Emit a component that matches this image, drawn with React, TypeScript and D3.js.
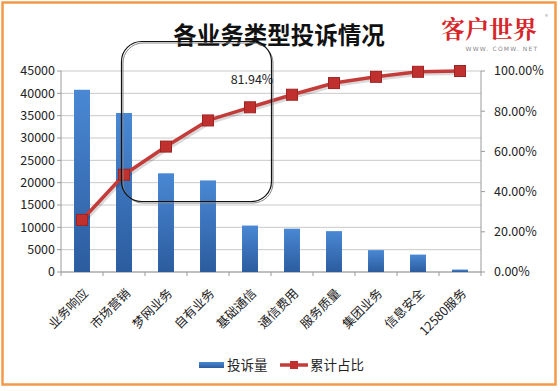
import { scaleBand, scaleLinear, line } from "d3";

const CATEGORIES = [
  "业务响应",
  "市场营销",
  "梦网业务",
  "自有业务",
  "基础通信",
  "通信费用",
  "服务质量",
  "集团业务",
  "信息安全",
  "12580服务",
];
const COMPLAINTS = [40800, 35600, 22100, 20500, 10400, 9700, 9150, 4900, 3900, 550];
const CUMULATIVE = [25.9, 48.4, 62.4, 75.4, 81.94, 88.2, 94.0, 97.1, 99.6, 100];
const LEFT_TICKS = [0, 5000, 10000, 15000, 20000, 25000, 30000, 35000, 40000, 45000];
const RIGHT_TICKS = [0, 20, 40, 60, 80, 100];
const LABELLED_POINT = 4;

const W = 560;
const H = 391;
const PLOT = { left: 61, right: 481, top: 71, bottom: 272 };

const FONT = "'Noto Sans CJK SC', 'Noto Sans', sans-serif";

export default function App() {
  const x = scaleBand<string>()
    .domain(CATEGORIES)
    .range([PLOT.left, PLOT.right])
    .paddingInner(0)
    .paddingOuter(0);
  const yLeft = scaleLinear().domain([0, 45000]).range([PLOT.bottom, PLOT.top]);
  const yRight = scaleLinear().domain([0, 100]).range([PLOT.bottom, PLOT.top]);

  const barW = x.bandwidth() * 0.38;
  const cx = (c: string) => (x(c) ?? 0) + x.bandwidth() / 2;

  const pathD =
    line<number>()
      .x((_, i) => cx(CATEGORIES[i]))
      .y(d => yRight(d))(CUMULATIVE) ?? "";

  const lblX = cx(CATEGORIES[LABELLED_POINT]);
  const lblY = yRight(CUMULATIVE[LABELLED_POINT]);

  return (
    <svg
      width={W}
      height={H}
      style={{ position: "absolute", left: 0, top: 0, fontFamily: FONT }}
    >
      <defs>
        <linearGradient id="barGrad" x1="0" y1="0" x2="0" y2="1">
          <stop offset="0" stopColor="#4a88d4" />
          <stop offset="1" stopColor="#2b5c9e" />
        </linearGradient>
      </defs>
      <rect x={0} y={0} width={W} height={H} fill="white" />
      <rect x={2.5} y={2.5} width={553} height={382} fill="white" stroke="#f29a4a" strokeWidth={2.5} />

      {/* title + logo */}
      <text x={279} y={44} textAnchor="middle" fontSize={23.5} fontWeight="bold" fill="#111">
        各业务类型投诉情况
      </text>
      <text x={489} y={38} textAnchor="middle" fontSize={24} fontWeight="bold" fill="#d8252a"
        fontFamily="'Noto Serif CJK SC', 'Noto Sans CJK SC', serif">
        客户世界
      </text>
      <text x={545} y={19} fontSize={6} fill="#999">®</text>
      <text x={502} y={51} textAnchor="middle" fontSize={6} fill="#888" letterSpacing={1.2} fontFamily="'DejaVu Sans', sans-serif">
        WWW. COMW. NET
      </text>

      {/* gridlines */}
      {LEFT_TICKS.map(t => (
        <line key={t} x1={PLOT.left} x2={PLOT.right} y1={yLeft(t)} y2={yLeft(t)} stroke="#c9c9c9" strokeWidth={1} />
      ))}

      {/* axes */}
      <line x1={PLOT.left} x2={PLOT.left} y1={PLOT.top} y2={PLOT.bottom} stroke="#9a9a9a" />
      <line x1={PLOT.right} x2={PLOT.right} y1={PLOT.top} y2={PLOT.bottom} stroke="#9a9a9a" />
      <line x1={PLOT.left} x2={PLOT.right} y1={PLOT.bottom} y2={PLOT.bottom} stroke="#9a9a9a" />
      {LEFT_TICKS.map(t => (
        <g key={t}>
          <line x1={PLOT.left - 4} x2={PLOT.left} y1={yLeft(t)} y2={yLeft(t)} stroke="#9a9a9a" />
          <text x={PLOT.left - 6} y={yLeft(t)} dy="0.35em" textAnchor="end" fontSize={12.5} fill="#222">
            {t}
          </text>
        </g>
      ))}
      {RIGHT_TICKS.map(t => (
        <g key={t}>
          <line x1={PLOT.right} x2={PLOT.right + 4} y1={yRight(t)} y2={yRight(t)} stroke="#9a9a9a" />
          <text x={PLOT.right + 13} y={yRight(t)} dy="0.35em" fontSize={12.5} fill="#222">
            {t.toFixed(2)}%
          </text>
        </g>
      ))}
      {[...CATEGORIES.map(c => x(c) ?? 0), PLOT.right].map((bx, i) => (
        <line key={i} x1={bx} x2={bx} y1={PLOT.bottom} y2={PLOT.bottom + 4} stroke="#9a9a9a" />
      ))}

      {/* bars */}
      {CATEGORIES.map((c, i) => (
        <rect
          key={c}
          x={cx(c) - barW / 2}
          y={yLeft(COMPLAINTS[i])}
          width={barW}
          height={PLOT.bottom - yLeft(COMPLAINTS[i])}
          fill="url(#barGrad)"
        />
      ))}

      {/* category labels */}
      {CATEGORIES.map(c => (
        <text
          key={c}
          transform={`translate(${cx(c) + 4},${PLOT.bottom + 19}) rotate(-45)`}
          textAnchor="end"
          dy="0.35em"
          fontSize={12.5}
          fill="#222"
        >
          {c}
        </text>
      ))}

      {/* cumulative line */}
      <path d={pathD} fill="none" stroke="#000" strokeOpacity={0.15} strokeWidth={4} transform="translate(1.5,2)" />
      <path d={pathD} fill="none" stroke="#c43c3a" strokeWidth={3.5} strokeLinejoin="round" />
      {CUMULATIVE.map((v, i) => (
        <rect
          key={i}
          x={cx(CATEGORIES[i]) - 5.5}
          y={yRight(v) - 5.5}
          width={11}
          height={11}
          fill="#c0302f"
          stroke="#9e2422"
          strokeWidth={1}
        />
      ))}
      <text x={lblX + 2} y={lblY - 23} textAnchor="middle" fontSize={12.5} fill="#222">
        {CUMULATIVE[LABELLED_POINT].toFixed(2)}%
      </text>

      {/* annotation box */}
      <rect x={123} y={43} width={150} height={160} rx={20} fill="none" stroke="#888" strokeWidth={1} />
      <rect x={121.5} y={41.5} width={150} height={160} rx={20} fill="none" stroke="#111" strokeWidth={1.2} />

      {/* legend */}
      <rect x={199} y={362} width={25} height={6} fill="url(#barGrad)" />
      <text x={227} y={365} dy="0.35em" fontSize={13.5} fill="#222">投诉量</text>
      <line x1={280} x2={308} y1={365} y2={365} stroke="#c43c3a" strokeWidth={3.5} />
      <rect x={290} y={361} width={8} height={8} fill="#c0302f" />
      <text x={310} y={365} dy="0.35em" fontSize={13.5} fill="#222">累计占比</text>
    </svg>
  );
}
